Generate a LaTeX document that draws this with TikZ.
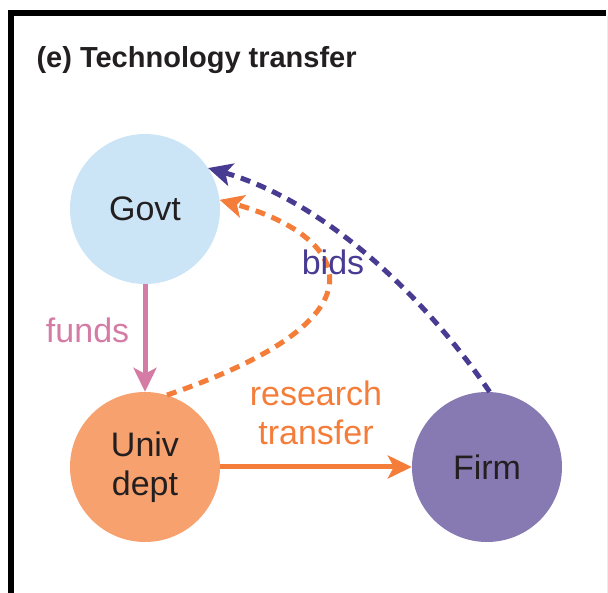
\documentclass[tikz,border=0pt]{standalone}
\usepackage{fontspec}
\setmainfont{Liberation Sans}
\usetikzlibrary{arrows.meta}
\definecolor{govtblue}{HTML}{CBE5F6}
\definecolor{univorange}{HTML}{F7A26E}
\definecolor{firmpurple}{HTML}{8779B1}
\definecolor{fundspink}{HTML}{D47BA6}
\definecolor{researchorange}{HTML}{F47D3A}
\definecolor{bidspurple}{HTML}{483B92}
\definecolor{inktext}{HTML}{231F20}

\begin{document}
\begin{tikzpicture}
  [x=1pt,y=-1pt,
   every node/.style={font=\fontsize{34}{39}\selectfont,align=center},
   agent/.style={circle,minimum size=150pt,inner sep=0pt,text=inktext},
   link/.style={line width=5pt,-{Stealth[length=24pt,width=23pt,inset=6pt]}},
   dashlink/.style={link,dash pattern=on 10pt off 7pt}]
  \useasboundingbox (0,0) rectangle (608,593);
  % frame
  \draw[line width=6pt] (11,593) -- (11,13) -- (606,13);
  \draw[gray!15,line width=1pt] (607,16) -- (607,593);
  \node[anchor=base west,font=\fontsize{29}{34}\selectfont\bfseries,text=inktext] (title) at (33,68) {(e) Technology transfer};
  \node[agent,fill=govtblue] (govt) at (145,209) {Govt};
  \node[agent,fill=univorange] (univ) at (145,467) {Univ\\dept};
  \node[agent,fill=firmpurple] (firm) at (487,467) {Firm};
  \draw[link,fundspink] (govt) -- node[left=10pt,yshift=8pt,text=fundspink] (funds) {funds} (univ);
  \draw[link,researchorange] (univ) -- node[above=16pt,text=researchorange] (research) {research\\transfer} (firm);
  \draw[dashlink,researchorange] (univ.73) .. controls (400,315) and (345,235) .. (govt.7);
  \draw[dashlink,bidspurple] (firm.88) .. controls (420,290) and (320,200) .. (govt.33);
  \node[text=bidspurple] (bids) at (333,262) {bids};
\end{tikzpicture}
\end{document}
